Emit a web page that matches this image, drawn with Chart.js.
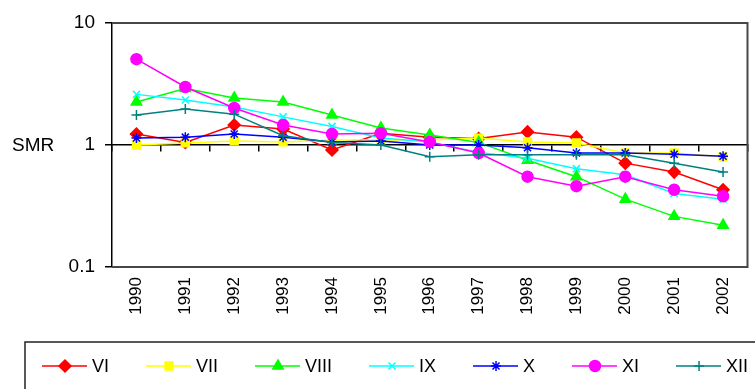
<!DOCTYPE html>
<html>
<head>
<meta charset="utf-8">
<script src="https://cdn.jsdelivr.net/npm/chart.js@4"></script>
<style>
  html, body { margin: 0; padding: 0; background: #fff; }
  #wrap { width: 755px; height: 389px; position: relative; }
</style>
</head>
<body>
<div id="wrap"><canvas id="smrChart"></canvas></div>
<script>
// SMR by year, log scale

const years = ['1990', '1991', '1992', '1993', '1994', '1995', '1996',
               '1997', '1998', '1999', '2000', '2001', '2002'];
const yTicks = [0.1, 1, 10];

const smrVI   = [1.23, 1.05, 1.46, 1.35, 0.91, 1.25, 1.16, 1.13, 1.28, 1.16, 0.71, 0.60, 0.43];
const smrVII  = [1.00, 1.04, 1.08, 1.06, 1.10, 1.10, 1.10, 1.14, 1.06, 1.04, 0.86, 0.86, 0.80];
const smrVIII = [2.25, 2.90, 2.43, 2.25, 1.76, 1.38, 1.21, 1.05, 0.75, 0.55, 0.36, 0.26, 0.22];
const smrIX   = [2.60, 2.34, 2.05, 1.70, 1.42, 1.14, 1.06, 0.87, 0.78, 0.64, 0.57, 0.40, 0.36];
const smrX    = [1.14, 1.16, 1.23, 1.16, 1.06, 1.08, 1.00, 1.00, 0.95, 0.86, 0.86, 0.84, 0.81];
const smrXI   = [5.05, 2.99, 2.01, 1.46, 1.23, 1.25, 1.06, 0.86, 0.55, 0.46, 0.55, 0.43, 0.38];
const smrXII  = [1.76, 1.97, 1.79, 1.19, 1.05, 1.00, 0.80, 0.83, 0.83, 0.83, 0.83, 0.71, 0.60];

const seriesNames = ['VI', 'VII', 'VIII', 'IX', 'X', 'XI', 'XII'];
const seriesData = [smrVI, smrVII, smrVIII, smrIX, smrX, smrXI, smrXII];
const seriesColors = ['#ff0000', '#ffff00', '#00ff00', '#00ffff', '#0000ff', '#ff00ff', '#008080'];
const seriesMarkers = ['rectRot', 'rect', 'triangle', 'crossRot', 'star', 'circle', 'cross'];
const markerSizes = [6, 5.5, 6, 5, 5, 5.5, 5];

const FONT = "'Liberation Sans', Arial, sans-serif";

const datasets = seriesNames.map((name, i) => ({
  label: name,
  data: seriesData[i],
  xAxisID: 'x',
  borderColor: seriesColors[i],
  backgroundColor: seriesColors[i],
  borderWidth: 1.5,
  pointStyle: seriesMarkers[i],
  pointRadius: markerSizes[i],
  pointBackgroundColor: seriesColors[i],
  pointBorderColor: seriesColors[i],
  pointBorderWidth: 1.5,
  tension: 0,
  order: seriesNames.length - i,
}));

// frame, y-axis title and the boxed legend at the bottom
const decorPlugin = {
  id: 'decor',
  afterDraw(chart) {
    const ctx = chart.ctx;
    const a = chart.chartArea;
    ctx.save();

    // plot frame (top, right, bottom)
    ctx.strokeStyle = '#474747';
    ctx.lineWidth = 2;
    ctx.beginPath();
    ctx.moveTo(a.left, a.top);
    ctx.lineTo(a.right, a.top);
    ctx.lineTo(a.right, a.bottom);
    ctx.lineTo(a.left, a.bottom);
    ctx.stroke();

    // SMR title, horizontal, level with 1
    ctx.fillStyle = '#000';
    ctx.font = '19px ' + FONT;
    ctx.textAlign = 'left';
    ctx.textBaseline = 'middle';
    ctx.fillText('SMR', 12, chart.scales.y.getPixelForValue(1) + 1);

    // legend box
    ctx.strokeStyle = '#222';
    ctx.lineWidth = 1.5;
    ctx.strokeRect(25, 342, 760, 60);

    ctx.font = '18px ' + FONT;
    let x = 42;
    const y = 366;
    chart.data.datasets.forEach(ds => {
      ctx.strokeStyle = ds.borderColor;
      ctx.lineWidth = 1.5;
      ctx.beginPath();
      ctx.moveTo(x, y);
      ctx.lineTo(x + 45, y);
      ctx.stroke();
      ctx.fillStyle = ds.pointBackgroundColor;
      ctx.strokeStyle = ds.pointBorderColor;
      ctx.lineWidth = ds.pointBorderWidth;
      Chart.helpers.drawPoint(ctx, {
        pointStyle: ds.pointStyle,
        radius: ds.pointRadius,
        rotation: 0,
        borderWidth: ds.pointBorderWidth,
      }, x + 23, y);
      ctx.fillStyle = '#000';
      ctx.fillText(ds.label, x + 50, y + 1);
      x += 50 + ctx.measureText(ds.label).width + 37;
    });

    ctx.restore();
  }
};

new Chart(document.getElementById('smrChart'), {
  type: 'line',
  data: { labels: years, datasets: datasets },
  plugins: [decorPlugin],
  options: {
    responsive: true,
    maintainAspectRatio: false,
    animation: false,
    layout: { padding: { left: 0, top: 23, right: 3, bottom: 52 } },
    plugins: {
      legend: { display: false },
      tooltip: { enabled: false },
    },
    scales: {
      x: {
        type: 'category',
        position: 'bottom',
        offset: true,
        grid: { display: false },
        border: { display: false },
        ticks: {
          color: '#000',
          font: { family: FONT, size: 17 },
          minRotation: 90,
          maxRotation: 90,
          padding: 2,
          autoSkip: false,
        },
        afterFit: s => { s.height = 70; },
      },
      x2: {
        type: 'category',
        labels: years,
        position: { y: 1 },
        offset: true,
        grid: {
          offset: true,
          drawOnChartArea: false,
          drawTicks: true,
          tickLength: 6,
          color: '#000',
          lineWidth: 1.5,
        },
        border: { display: true, color: '#000', width: 1.5 },
        ticks: { display: false },
      },
      y: {
        type: 'logarithmic',
        position: 'left',
        min: 0.1,
        max: 10,
        afterBuildTicks: s => { s.ticks = yTicks.map(v => ({ value: v })); },
        ticks: {
          color: '#000',
          font: { family: FONT, size: 19 },
          padding: 10,
          callback: v => String(v),
        },
        grid: {
          drawOnChartArea: false,
          drawTicks: true,
          tickLength: 7,
          color: '#000',
          lineWidth: 1.5,
        },
        border: { display: true, color: '#000', width: 1.5 },
        afterFit: s => { s.width = 112; },
      },
    },
  },
});
</script>
</body>
</html>
